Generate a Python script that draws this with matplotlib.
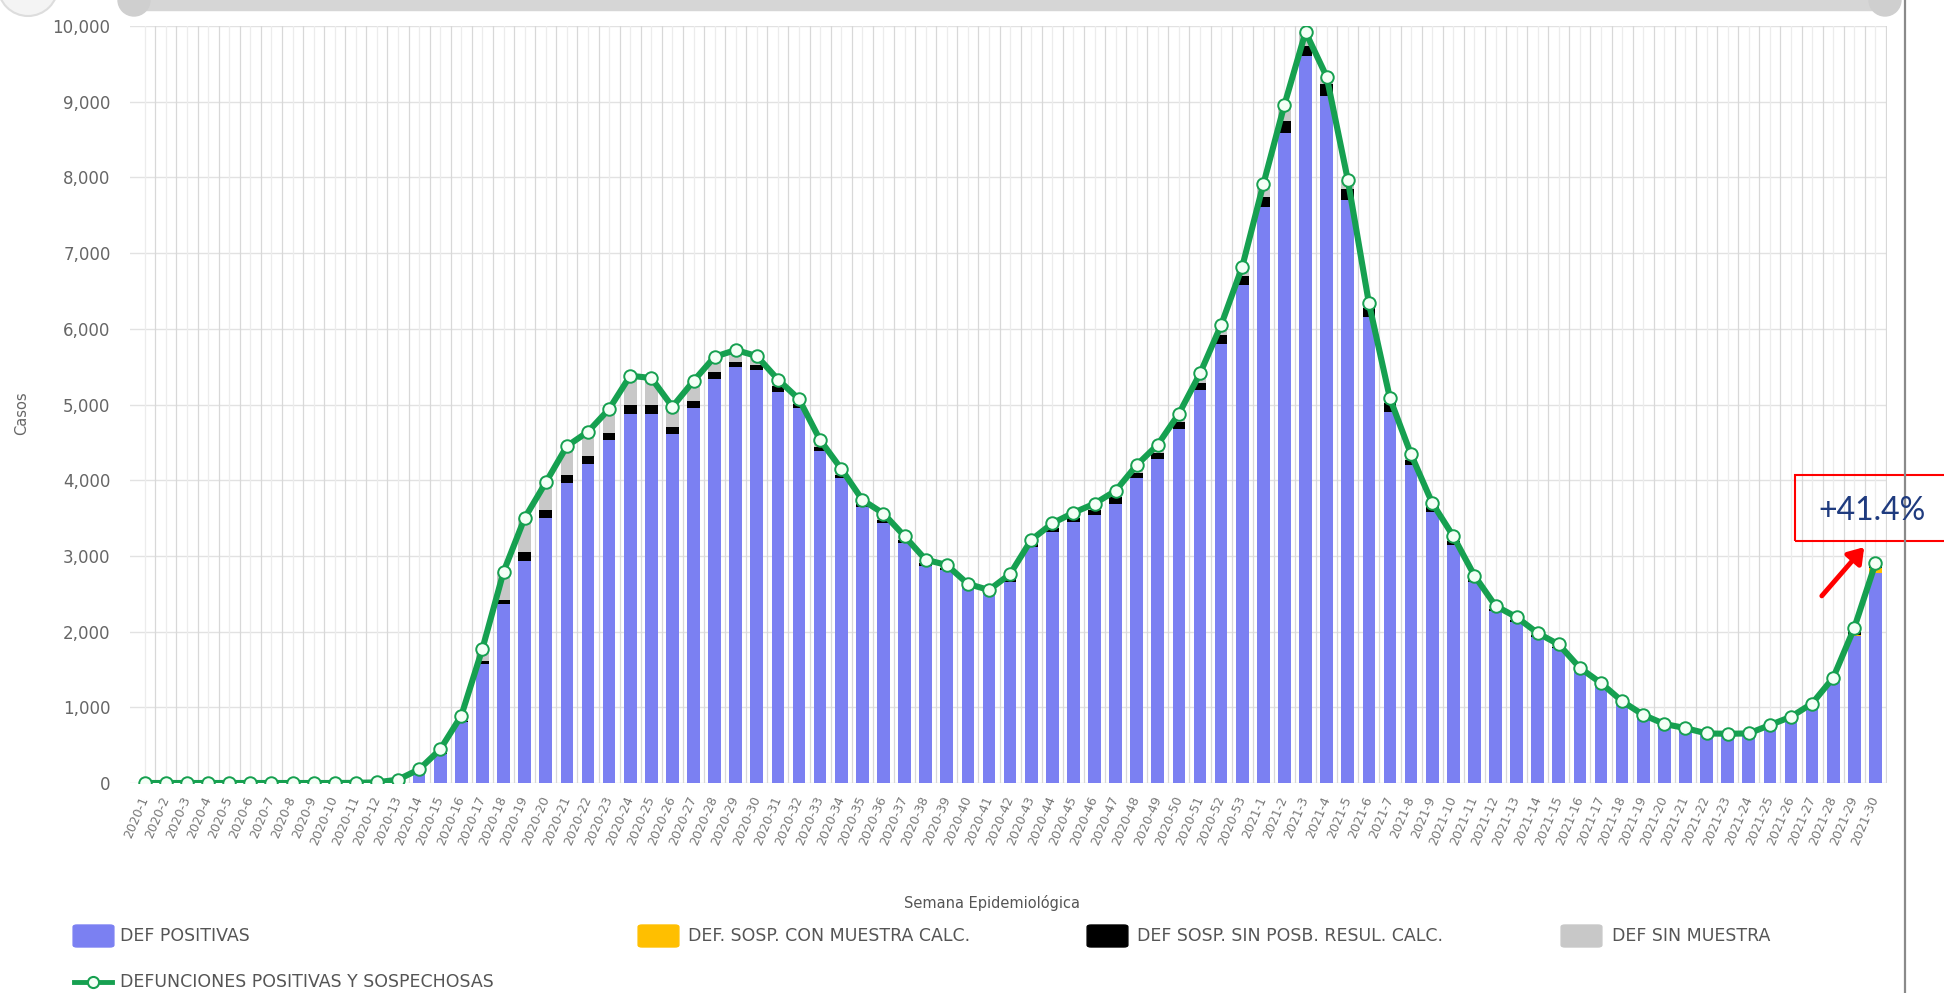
import matplotlib
matplotlib.use('Agg')
import matplotlib.pyplot as plt
from matplotlib.patches import FancyBboxPatch, Rectangle, Ellipse, FancyArrowPatch
from matplotlib.lines import Line2D
import numpy as np

plt.rcParams['font.family'] = ['DejaVu Sans']

# semanas epidemiologicas
semanas = [f'2020-{i}' for i in range(1, 54)] + [f'2021-{i}' for i in range(1, 31)]

def_positivas = [0, 0, 0, 0, 0, 0, 0, 0, 0, 0, 1, 5, 30, 135, 385, 800, 1570, 2370,
                 2930, 3500, 3960, 4210, 4530, 4880, 4870, 4610, 4950, 5340, 5500,
                 5460, 5170, 4950, 4390, 4030, 3640, 3430, 3170, 2870, 2810, 2570,
                 2500, 2660, 3120, 3320, 3450, 3540, 3690, 4030, 4280, 4680, 5190,
                 5800, 6580,
                 7610, 8590, 9610, 9070, 7700, 6160, 4900, 4200, 3580, 3150, 2650,
                 2270, 2130, 1930, 1780, 1480, 1285, 1050, 875, 760, 705, 640, 635,
                 640, 745, 850, 1020, 1345, 1940, 2780]

def_sosp_con_muestra = [0] * 80 + [5, 10, 60]

def_sosp_sin_posb = [0, 0, 0, 0, 0, 0, 0, 0, 0, 0, 0, 0, 3, 8, 12, 20, 40, 50,
                     120, 110, 110, 110, 90, 110, 120, 90, 90, 90, 60, 60, 70, 60,
                     50, 40, 40, 40, 40, 40, 30, 30, 30, 50, 50, 50, 50, 70, 90, 70,
                     80, 90, 100, 120, 120,
                     130, 150, 120, 170, 150, 110, 120, 70, 60, 50, 40, 30, 20, 20,
                     20, 15, 15, 10, 10, 5, 5, 5, 5, 5, 5, 10, 10, 15, 50, 20]

def_sin_muestra = [0, 0, 0, 0, 0, 0, 0, 0, 0, 0, 1, 3, 12, 37, 48, 70, 165, 370,
                   450, 360, 380, 320, 320, 390, 360, 270, 270, 200, 160, 120, 90, 60,
                   90, 80, 60, 90, 50, 40, 40, 30, 20, 50, 40, 60, 70, 80, 80, 100,
                   110, 110, 120, 130, 120,
                   170, 220, 190, 90, 120, 70, 60, 70, 60, 60, 50, 40, 40, 30, 30,
                   25, 20, 20, 15, 15, 15, 10, 10, 10, 15, 15, 20, 25, 50, 40]

azul = '#7b80f2'
naranja = '#ffbf00'
negro = '#000000'
gris = '#c8c8c8'
verde = '#16a050'

fig = plt.figure(figsize=(19.44, 9.93), dpi=100)
ax = fig.add_axes([130 / 1944, 210 / 993, 1757 / 1944, 757 / 993])

x = np.arange(len(semanas))
pos = np.array(def_positivas)
con = np.array(def_sosp_con_muestra)
sin = np.array(def_sosp_sin_posb)
sm = np.array(def_sin_muestra)
total = pos + con + sin + sm

w = 0.6
ax.bar(x, pos, w, color=azul, zorder=2)
ax.bar(x, con, w, bottom=pos, color=naranja, zorder=2)
ax.bar(x, sin, w, bottom=pos + con, color=negro, zorder=2)
ax.bar(x, sm, w, bottom=pos + con + sin, color=gris, zorder=2)

ax.plot(x, total, color=verde, lw=4.4, marker='o', ms=9, mfc='#f4fff6',
        mec=verde, mew=1.4, zorder=4)

# grid
for v in range(0, 10001, 1000):
    ax.axhline(v, color='#e2e2e2', lw=1, zorder=0)
for i in x:
    ax.axvline(i + 0.5, color='#d8d8d8', lw=0.9, zorder=0)
    ax.axvline(i, color='#ececec', lw=0.9, zorder=0)

ax.set_xlim(-0.7, 82.55)
ax.set_ylim(0, 10000)
ax.set_yticks(range(0, 10001, 1000))
ax.set_yticklabels([f'{v:,}' for v in range(0, 10001, 1000)], fontsize=12,
                   color='#666666')
ax.set_xticks(x)
ax.set_xticklabels(semanas, rotation=67, ha='right', va='center',
                   rotation_mode='anchor', fontsize=9, color='#777777')
ax.tick_params(axis='both', length=0)
ax.tick_params(axis='y', pad=14)
ax.tick_params(axis='x', pad=10)
for s in ax.spines.values():
    s.set_visible(False)

fig.text(22 / 1944, 1 - 413 / 993, 'Casos', rotation=90, ha='center', va='center',
         fontsize=10.5, color='#666666')
fig.text(992 / 1944, 1 - 903 / 993, 'Semana Epidemiológica', ha='center', va='center',
         fontsize=10.5, color='#555555')

# barra de desplazamiento superior
fig.patches.append(Rectangle((134 / 1944, 1 - 10 / 993), 1751 / 1944, 10 / 993,
                             transform=fig.transFigure, color='#d6d6d6', zorder=0))
for cx in (134, 1885):
    fig.patches.append(Ellipse((cx / 1944, 1.0), 32 / 1944, 32 / 993,
                               transform=fig.transFigure, color='#cfcfcf', zorder=1))
fig.patches.append(Ellipse((28 / 1944, 1 + 14 / 993), 60 / 1944, 60 / 993,
                           transform=fig.transFigure, fc='#f4f4f4', ec='#dddddd',
                           lw=1.5, zorder=1))

# linea vertical derecha
fig.add_artist(Line2D([1905 / 1944, 1905 / 1944], [0, 1], transform=fig.transFigure,
                      color='#8a8a8a', lw=1.6))

# leyenda
items = [(77, 120, azul, 'DEF POSITIVAS'),
         (642, 688, naranja, 'DEF. SOSP. CON MUESTRA CALC.'),
         (1091, 1137, negro, 'DEF SOSP. SIN POSB. RESUL. CALC.'),
         (1565, 1612, gris, 'DEF SIN MUESTRA')]
y1 = 1 - 936 / 993
for px, tx, col, lab in items:
    fig.patches.append(FancyBboxPatch((px / 1944, y1 - 9 / 993), 33 / 1944, 18 / 993,
                                      boxstyle='round,pad=0.002', transform=fig.transFigure,
                                      color=col))
    fig.text(tx / 1944, y1, lab, ha='left', va='center', fontsize=12.5, color='#555555')
y2 = 1 - 982 / 993
fig.add_artist(Line2D([74 / 1944, 112 / 1944], [y2, y2], transform=fig.transFigure,
                      color=verde, lw=3.5))
fig.add_artist(Line2D([93 / 1944], [y2], transform=fig.transFigure, marker='o', ms=8,
                      mfc='#f4fff6', mec=verde, mew=1.5))
fig.text(120 / 1944, y2, 'DEFUNCIONES POSITIVAS Y SOSPECHOSAS', ha='left', va='center',
         fontsize=12.5, color='#555555')

# anotacion
fig.patches.append(Rectangle((1795 / 1944, 1 - 541 / 993), 160 / 1944, 66 / 993,
                             transform=fig.transFigure, fill=False, ec='#ff0000', lw=1.5))
fig.text(1872 / 1944, 1 - 511 / 993, '+41.4%', ha='center', va='center',
         fontsize=23, color='#1f3b7f', family=['Lato', 'DejaVu Sans'])
fig.add_artist(FancyArrowPatch((1820 / 1944, 1 - 598 / 993), (1866 / 1944, 1 - 545 / 993),
                               transform=fig.transFigure, arrowstyle='-|>,head_length=9,head_width=6',
                               color='#ff0000', lw=3.5))

fig.savefig('out.png', dpi=100)
